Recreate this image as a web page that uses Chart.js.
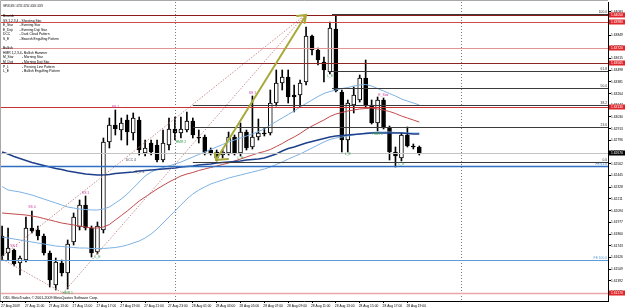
<!DOCTYPE html>
<html>
<head>
<meta charset="utf-8">
<title>GBPUSD,M30</title>
<script src="https://cdn.jsdelivr.net/npm/chart.js@4.4.1/dist/chart.umd.min.js"></script>
<style>
  html, body { margin: 0; padding: 0; background: #fff; }
  canvas { display: block; }
</style>
</head>
<body>
<canvas id="chart" width="625" height="308"></canvas>
<script>
// GBPUSD M30, 27-28 Aug 2009. Bar 0 = 27 Aug 09:00, one bar per 30 min

const timeLabels = ['27 Aug 2009', '27 Aug 11:00', '27 Aug 13:00', '27 Aug 15:00', '27 Aug 17:00',
  '27 Aug 19:00', '27 Aug 21:00', '27 Aug 23:00', '28 Aug 01:00', '28 Aug 03:00', '28 Aug 05:00',
  '28 Aug 07:00', '28 Aug 09:00', '28 Aug 11:00', '28 Aug 13:00', '28 Aug 15:00', '28 Aug 17:00',
  '28 Aug 19:00'];
const timeTickBars = [0, 4, 8, 12, 16, 20, 24, 28, 32, 36, 40, 44, 48, 52, 56, 60, 64, 68];

const priceTicks = [1.64083, 1.63966, 1.63849, 1.63732, 1.63615, 1.63498, 1.63381, 1.63264,
  1.63147, 1.63030, 1.62913, 1.62796, 1.62679, 1.62562, 1.62445, 1.62328, 1.62211, 1.62094,
  1.61977, 1.61860, 1.61743, 1.61626, 1.61509, 1.61392, 1.61275];

// OHLC
const open = [
  1.6184, 1.6167, 1.6170, 1.6157, 1.6160, 1.6192, 1.6190, 1.6184, 1.6167, 1.6135,
  1.6157, 1.6147, 1.6178, 1.6193, 1.6215, 1.6192, 1.6168, 1.6190, 1.6278, 1.6295,
  1.6290, 1.6300, 1.6287, 1.6300, 1.6267, 1.6277, 1.6275, 1.6260, 1.6275, 1.6291,
  1.6287, 1.6290, 1.6299, 1.6283, 1.6283, 1.6270, 1.6268, 1.6265, 1.6267, 1.6283,
  1.6267, 1.6288, 1.6273, 1.6283, 1.6287, 1.6287, 1.6317, 1.6337, 1.6343, 1.6325,
  1.6325, 1.6338, 1.6384, 1.6370, 1.6358, 1.6348, 1.6391, 1.6328, 1.6280, 1.6315,
  1.6320, 1.6342, 1.6315, 1.6297, 1.6320, 1.6292, 1.6268, 1.6262, 1.6285, 1.6274,
  1.6273];
const high = [
  1.6194, 1.6192, 1.6171, 1.6164, 1.6203, 1.6209, 1.6194, 1.6186, 1.6169, 1.6162,
  1.6160, 1.6180, 1.6207, 1.6220, 1.6224, 1.6194, 1.6198, 1.6282, 1.6302, 1.6310,
  1.6302, 1.6305, 1.6307, 1.6303, 1.6280, 1.6280, 1.6280, 1.6290, 1.6302, 1.6303,
  1.6303, 1.6308, 1.6302, 1.6290, 1.6285, 1.6272, 1.6270, 1.6270, 1.6288, 1.6285,
  1.6297, 1.6290, 1.6324, 1.6301, 1.6292, 1.6330, 1.6350, 1.6350, 1.6350, 1.6335,
  1.6340, 1.6393, 1.6385, 1.6372, 1.6363, 1.6398, 1.6405, 1.6330, 1.6320, 1.6333,
  1.6345, 1.6360, 1.6320, 1.6323, 1.6322, 1.6294, 1.6273, 1.6287, 1.6293, 1.6276,
  1.6274];
const low = [
  1.6160, 1.6160, 1.6154, 1.6145, 1.6158, 1.6187, 1.6180, 1.6165, 1.6133, 1.6130,
  1.6144, 1.6131, 1.6175, 1.6190, 1.6190, 1.6163, 1.6166, 1.6187, 1.6272, 1.6285,
  1.6280, 1.6275, 1.6280, 1.6265, 1.6264, 1.6265, 1.6258, 1.6258, 1.6270, 1.6280,
  1.6282, 1.6288, 1.6282, 1.6277, 1.6265, 1.6265, 1.6259, 1.6262, 1.6265, 1.6265,
  1.6264, 1.6270, 1.6271, 1.6280, 1.6284, 1.6285, 1.6314, 1.6330, 1.6317, 1.6308,
  1.6313, 1.6335, 1.6365, 1.6355, 1.6338, 1.6346, 1.6328, 1.6268, 1.6268, 1.6307,
  1.6318, 1.6312, 1.6296, 1.6289, 1.6291, 1.6260, 1.6253, 1.6259, 1.6273, 1.6271,
  1.6265];
const close = [
  1.6164, 1.6172, 1.6156, 1.6162, 1.6192, 1.6189, 1.6184, 1.6167, 1.6140, 1.6158,
  1.6147, 1.6176, 1.6203, 1.6215, 1.6192, 1.6167, 1.6194, 1.6278, 1.6295, 1.6291,
  1.6297, 1.6288, 1.6302, 1.6270, 1.6272, 1.6268, 1.6260, 1.6277, 1.6291, 1.6287,
  1.6291, 1.6299, 1.6285, 1.6282, 1.6268, 1.6267, 1.6262, 1.6268, 1.6283, 1.6267,
  1.6288, 1.6272, 1.6283, 1.6287, 1.6286, 1.6317, 1.6337, 1.6343, 1.6323, 1.6323,
  1.6337, 1.6384, 1.6370, 1.6360, 1.6350, 1.6392, 1.6329, 1.6280, 1.6317, 1.6325,
  1.6342, 1.6315, 1.6297, 1.6320, 1.6292, 1.6268, 1.6264, 1.6285, 1.6274, 1.6273,
  1.6267];

// indicators
const slowMA = [
  1.6268, 1.6266, 1.62635, 1.62615, 1.62595, 1.62575, 1.6256, 1.62545, 1.6253, 1.62515,
  1.62505, 1.6249, 1.6248, 1.6247, 1.6246, 1.62455, 1.6245, 1.6245, 1.62455, 1.62465,
  1.6247, 1.62475, 1.6248, 1.6249, 1.62495, 1.6250, 1.62505, 1.6251, 1.62515, 1.6252,
  1.6253, 1.62535, 1.6254, 1.6255, 1.62555, 1.6256, 1.6257, 1.62575, 1.6258, 1.62585,
  1.6259, 1.6260, 1.62605, 1.6261, 1.6262, 1.6264, 1.6266, 1.6269, 1.62715, 1.6273,
  1.6275, 1.6277, 1.62785, 1.6280, 1.62815, 1.6283, 1.6284, 1.62845, 1.6285, 1.62855,
  1.6286, 1.62865, 1.6287, 1.6287, 1.6287, 1.6287, 1.6287, 1.6287, 1.62865, 1.6286,
  1.6286];
const midMA = [
  1.6207, 1.62065, 1.6206, 1.62055, 1.6205, 1.6204, 1.6203, 1.62015, 1.6200, 1.61985,
  1.6197, 1.6196, 1.6195, 1.6194, 1.6193, 1.6192, 1.6192, 1.6193, 1.61955, 1.6200,
  1.62045, 1.6209, 1.6214, 1.6219, 1.6223, 1.6227, 1.6231, 1.62345, 1.6238, 1.6241,
  1.6244, 1.6246, 1.62475, 1.62495, 1.6251, 1.62525, 1.6254, 1.62555, 1.6257, 1.6259,
  1.6261, 1.6263, 1.6265, 1.6267, 1.62685, 1.62705, 1.62735, 1.62765, 1.6280, 1.6283,
  1.62865, 1.62905, 1.6294, 1.6297, 1.6300, 1.63035, 1.6306, 1.63075, 1.6309, 1.6310,
  1.6311, 1.63115, 1.6312, 1.6311, 1.6310, 1.63085, 1.63065, 1.6304, 1.6302, 1.6300,
  1.6298];
const upperBand = [
  1.62335, 1.6230, 1.6229, 1.6228, 1.62265, 1.6225, 1.6223, 1.6221, 1.6219, 1.6217,
  1.6215, 1.6213, 1.6212, 1.6211, 1.62105, 1.6210, 1.6210, 1.6211, 1.6213, 1.6217,
  1.6221, 1.6226, 1.6232, 1.6238, 1.6244, 1.6248, 1.62505, 1.62525, 1.6254, 1.6256,
  1.6258, 1.62605, 1.6263, 1.62655, 1.6268, 1.62705, 1.6273, 1.62755, 1.6278, 1.6280,
  1.6282, 1.6284, 1.6286, 1.62885, 1.6291, 1.6295, 1.62985, 1.6302, 1.63055, 1.6309,
  1.6313, 1.63165, 1.6320, 1.63235, 1.63265, 1.63285, 1.6330, 1.63315, 1.63325, 1.6334,
  1.6335, 1.63355, 1.6334, 1.63315, 1.6329, 1.63265, 1.6324, 1.6321, 1.6319, 1.6317,
  1.6315];
const lowerBand = [
  1.6183, 1.6182, 1.6181, 1.6180, 1.6179, 1.6178, 1.6177, 1.6176, 1.6175, 1.6174,
  1.61735, 1.6173, 1.61725, 1.6172, 1.6172, 1.61715, 1.61715, 1.61715, 1.6172, 1.61725,
  1.61735, 1.6175, 1.6177, 1.6179, 1.6182, 1.6186, 1.6191, 1.6197, 1.6203, 1.6209,
  1.6215, 1.6221, 1.6226, 1.6230, 1.6233, 1.6236, 1.6238, 1.6240, 1.6242, 1.62435,
  1.6245, 1.62465, 1.6248, 1.62495, 1.6251, 1.6253, 1.62555, 1.6258, 1.6261, 1.62635,
  1.6266, 1.6269, 1.6272, 1.6275, 1.6278, 1.62805, 1.6282, 1.6283, 1.6284, 1.6285,
  1.6286, 1.6287, 1.62875, 1.6288, 1.6288, 1.6288, 1.62875, 1.62875, 1.6287, 1.6287,
  1.6287];

// chart objects
const hLinePrices = [1.6405, 1.6398, 1.6372, 1.63565, 1.6313, 1.6127];
const fePrices = [1.6254, 1.6160];
const feNames = ['FE 61.8', 'FE 100.0'];
const fibHigh = 1.6406;
const fibLow = 1.6258;
const fibLevels = [100.0, 61.8, 50.0, 38.2, 23.6, 0.0];
const fibStartBars = [55.35, 55.35, 55.35, 32, 32, 32];
const sepBars = [29, 77];
const trendLines = [
  [-0.35, 1.6162, 10.22, 1.6127],
  [10.22, 1.6127, 50.82, 1.6405],
  [-0.35, 1.6162, 50.82, 1.6405]
];
const arrowFrom = [35.89, 1.6260];
const arrowTo = [51.0, 1.6405];

const bearMarks = [[2, 1.6174, 'SS 1'], [5, 1.6213, 'SS 4'], [14, 1.6227, 'SS 1'],
  [19, 1.6313, 'SS 1'], [42, 1.6327, 'SS 1'], [64, 1.6325, 'E_Star']];
const bullMarks = [[11, 1.6127, 'HMR 1'], [16, 1.6163, 'L_E'], [30, 1.6278, 'HMR 2'],
  [40, 1.6262, 'L_E'], [55, 1.6344, 'L_E'], [58, 1.6266, 'L_E'], [63, 1.6286, 'HMR 1'],
  [67, 1.6256, 'L_E']];
const otherMarks = [[21.6, 1.6260, 'DCC 4'], [23.1, 1.6248, 'S_E 4']];

const legendCodes = ['Bearish', 'SS 1,2,3,4', 'E_Star', 'E_Doji', 'DCC', 'S_E', '',
  'Bullish', 'HMR 1,2,3,4', 'M_Star', 'M_Doji', 'P_L', 'L_E'];
const legendNames = ['', '- Shooting Star', '- Evening Star', '- Evening Doji Star',
  '- Dark Cloud Pattern', '- Bearish Engulfing Pattern', '', '', '- Bullish Hammer',
  '- Morning Star', '- Morning Doji Star', '- Piercing Line Pattern', '- Bullish Engulfing Pattern'];

// styles
const FONT = '"Liberation Sans", Arial, sans-serif';
const hLineStyles = [
  { color: '#8b1a1a', width: 1 }, { color: '#d04a4a', width: 1 }, { color: '#e39393', width: 1 },
  { color: '#8e2525', width: 1 }, { color: '#c83232', width: 1 }, { color: '#eaa6a6', width: 1.5 }
];
const feStyles = [{ color: '#2f6fc2', width: 1.5 }, { color: '#5c9bd8', width: 1 }];

const bars = open.map((_, i) => i);

const mtObjects = {
  id: 'mtObjects',
  afterDatasetsDraw(chart) {
    const { ctx, chartArea: a, scales: { x, y } } = chart;
    const px = b => x.getPixelForValue(b);
    const py = p => y.getPixelForValue(p);
    const crisp = v => Math.round(v) + 0.5;

    ctx.save();
    ctx.beginPath();
    ctx.rect(a.left, a.top, a.right - a.left, a.bottom - a.top);
    ctx.clip();

    // day separators
    ctx.lineWidth = 1;
    ctx.strokeStyle = '#7a7a7a';
    ctx.setLineDash([1, 2]);
    sepBars.forEach(b => {
      const X = crisp(px(b));
      ctx.beginPath(); ctx.moveTo(X, a.top); ctx.lineTo(X, a.bottom); ctx.stroke();
    });

    // dotted trend lines
    ctx.strokeStyle = '#c98f8f';
    ctx.setLineDash([1.5, 1.5]);
    trendLines.forEach(t => {
      ctx.beginPath(); ctx.moveTo(px(t[0]), py(t[1])); ctx.lineTo(px(t[2]), py(t[3])); ctx.stroke();
    });
    ctx.setLineDash([]);

    // horizontal lines
    hLinePrices.forEach((p, i) => {
      ctx.strokeStyle = hLineStyles[i].color;
      ctx.lineWidth = hLineStyles[i].width;
      const Y = crisp(py(p));
      ctx.beginPath(); ctx.moveTo(a.left, Y); ctx.lineTo(a.right, Y); ctx.stroke();
    });

    // bid line
    ctx.strokeStyle = '#c4c4c4';
    ctx.lineWidth = 1;
    const bidY = crisp(py(close[close.length - 1]));
    ctx.beginPath(); ctx.moveTo(a.left, bidY); ctx.lineTo(a.right, bidY); ctx.stroke();

    // fibo expansion
    ctx.font = '3.3px ' + FONT;
    ctx.textAlign = 'right';
    ctx.textBaseline = 'alphabetic';
    fePrices.forEach((p, i) => {
      ctx.strokeStyle = feStyles[i].color;
      ctx.lineWidth = feStyles[i].width;
      const Y = crisp(py(p));
      ctx.beginPath(); ctx.moveTo(a.left, Y); ctx.lineTo(a.right, Y); ctx.stroke();
      ctx.fillStyle = feStyles[i].color;
      ctx.fillText(feNames[i], a.right - 1, Y - 1.5);
    });

    // fibo retracement
    fibLevels.forEach((lv, i) => {
      const p = fibLow + (fibHigh - fibLow) * lv / 100;
      const Y = crisp(py(p));
      ctx.strokeStyle = '#3a3a3a';
      ctx.lineWidth = 1.2;
      ctx.beginPath(); ctx.moveTo(px(fibStartBars[i]), Y); ctx.lineTo(a.right, Y); ctx.stroke();
      ctx.fillStyle = '#333';
      ctx.fillText(lv.toFixed(1), a.right - 1, Y - 1.5);
    });

    // arrow
    const x0 = px(arrowFrom[0]), y0 = py(arrowFrom[1]);
    const x1 = px(arrowTo[0]), y1 = py(arrowTo[1]);
    ctx.strokeStyle = '#a9a83a';
    ctx.lineWidth = 2;
    ctx.lineCap = 'round';
    ctx.beginPath();
    ctx.moveTo(x0, y0); ctx.lineTo(x1, y1);
    ctx.moveTo(x0 + 12, y0 - 1); ctx.lineTo(x0, y0); ctx.lineTo(x0 - 1, y0 - 7);
    ctx.moveTo(x1 - 9, y1 + 1); ctx.lineTo(x1, y1); ctx.lineTo(x1 - 1.5, y1 + 8);
    ctx.stroke();

    // pattern marks
    ctx.textAlign = 'center';
    ctx.textBaseline = 'middle';
    ctx.font = '3.4px ' + FONT;
    ctx.fillStyle = '#c8359b';
    bearMarks.forEach(m => ctx.fillText(m[2], px(m[0]), py(m[1])));
    ctx.fillStyle = '#2f9a4c';
    bullMarks.forEach(m => ctx.fillText(m[2], px(m[0]), py(m[1])));
    ctx.fillStyle = '#3d4466';
    otherMarks.forEach(m => ctx.fillText(m[2], px(m[0]), py(m[1])));

    ctx.restore();
  },
  afterDraw(chart) {
    const { ctx, chartArea: a, scales: { y } } = chart;
    ctx.save();

    // window frame
    ctx.strokeStyle = '#a8a8a8';
    ctx.lineWidth = 1;
    ctx.beginPath();
    ctx.moveTo(0.5, a.bottom); ctx.lineTo(0.5, 0.5); ctx.lineTo(a.right, 0.5);
    ctx.stroke();

    // price boxes on the axis
    ctx.font = '3.3px ' + FONT;
    ctx.textAlign = 'left';
    ctx.textBaseline = 'middle';
    const box = (p, bg) => {
      const Y = Math.round(y.getPixelForValue(p));
      ctx.fillStyle = bg;
      ctx.fillRect(a.right + 1, Y - 2.5, 17, 5);
      ctx.fillStyle = '#fff';
      ctx.fillText(p.toFixed(5), a.right + 3, Y);
    };
    hLinePrices.forEach(p => box(p, '#e0262a'));
    box(close[close.length - 1], '#000');

    // title, legend, copyright
    ctx.fillStyle = '#000';
    ctx.textBaseline = 'alphabetic';
    ctx.font = '3.3px ' + FONT;
    ctx.fillText('GBPUSD,M30  ' + open[70].toFixed(5) + ' ' + high[70].toFixed(5) + ' ' +
      low[70].toFixed(5) + ' ' + close[70].toFixed(5), 3, 6.5, 40);
    legendCodes.forEach((c, i) => {
      const Y = 17 + i * 4.6;
      ctx.fillText(c, 3, Y);
      ctx.fillText(legendNames[i], i < 7 ? 19.5 : 22, Y);
    });
    ctx.font = '3.6px ' + FONT;
    ctx.fillText('ODL MetaTrader, \u00a9 2001-2009 MetaQuotes Software Corp.', 3, 298.5);
    ctx.restore();
  }
};

new Chart(document.getElementById('chart'), {
  type: 'bar',
  data: {
    datasets: [
      { type: 'line', data: bars.map(i => ({ x: i, y: upperBand[i] })), borderColor: '#7db1e2', borderWidth: 1, pointRadius: 0, order: 1 },
      { type: 'line', data: bars.map(i => ({ x: i, y: lowerBand[i] })), borderColor: '#7db1e2', borderWidth: 1, pointRadius: 0, order: 1 },
      { type: 'line', data: bars.map(i => ({ x: i, y: midMA[i] })), borderColor: '#c24a4a', borderWidth: 1, pointRadius: 0, order: 1 },
      { type: 'line', data: bars.map(i => ({ x: i, y: slowMA[i] })), borderColor: '#1e3f8a', borderWidth: 1.4, pointRadius: 0, order: 0 },
      {
        data: bars.map(i => ({ x: i, y: [open[i], close[i]] })),
        backgroundColor: c => close[c.dataIndex] >= open[c.dataIndex] ? '#fff' : '#000',
        borderColor: '#000', borderWidth: 1, borderSkipped: false,
        barThickness: 4, grouped: false, order: 4
      },
      {
        data: bars.map(i => ({ x: i, y: [low[i], high[i]] })),
        backgroundColor: '#000', borderWidth: 0,
        barThickness: 1, grouped: false, order: 5
      }
    ]
  },
  options: {
    responsive: false,
    devicePixelRatio: 1,
    animation: false,
    layout: { padding: { top: 2, left: 0, right: 0, bottom: 0 } },
    plugins: { legend: { display: false }, tooltip: { enabled: false } },
    scales: {
      x: {
        type: 'linear', min: -0.352, max: 101.66, offset: false,
        afterFit: s => { s.height = 7; },
        afterBuildTicks: s => { s.ticks = timeTickBars.map(v => ({ value: v })); },
        grid: { drawOnChartArea: false, offset: false, tickLength: 2, color: '#000' },
        border: { color: '#000' },
        ticks: {
          align: 'start', labelOffset: -1, padding: 1, maxRotation: 0, autoSkip: false,
          color: '#000', font: { family: FONT, size: 3.3 },
          callback: (v, i) => timeLabels[i]
        }
      },
      y: {
        type: 'linear', position: 'right', min: 1.6119, max: 1.6418, beginAtZero: false,
        afterFit: s => { s.width = 17; },
        afterBuildTicks: s => { s.ticks = priceTicks.map(v => ({ value: v })); },
        grid: { drawOnChartArea: false, tickLength: 3, color: '#000' },
        border: { color: '#000' },
        ticks: {
          padding: 0, autoSkip: false, color: '#000', font: { family: FONT, size: 3.3 },
          callback: v => v.toFixed(5)
        }
      }
    }
  },
  plugins: [mtObjects]
});
</script>
</body>
</html>
